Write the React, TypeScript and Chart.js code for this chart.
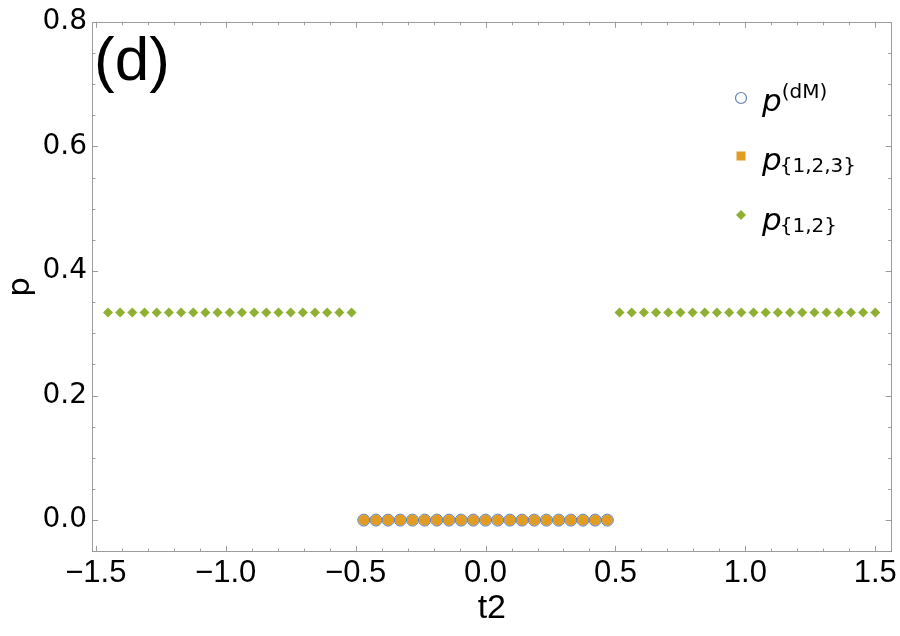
import React, { useEffect, useRef } from 'react';
import { Chart, registerables } from 'chart.js';

Chart.register(...registerables);

// ---- data ----
const T_LEFT = [
  -1.453125, -1.40625, -1.359375, -1.3125, -1.265625, -1.21875, -1.171875, -1.125,
  -1.078125, -1.03125, -0.984375, -0.9375, -0.890625, -0.84375, -0.796875, -0.75,
  -0.703125, -0.65625, -0.609375, -0.5625, -0.515625,
];
const T_RIGHT = [
  0.515625, 0.5625, 0.609375, 0.65625, 0.703125, 0.75, 0.796875, 0.84375, 0.890625,
  0.9375, 0.984375, 1.03125, 1.078125, 1.125, 1.171875, 1.21875, 1.265625, 1.3125,
  1.359375, 1.40625, 1.453125, 1.5,
];
const T_MID = [
  -0.46875, -0.421875, -0.375, -0.328125, -0.28125, -0.234375, -0.1875, -0.140625,
  -0.09375, -0.046875, 0, 0.046875, 0.09375, 0.140625, 0.1875, 0.234375, 0.28125,
  0.328125, 0.375, 0.421875, 0.46875,
];
const P12_LEFT = [
  0.3333, 0.3333, 0.3333, 0.3333, 0.3333, 0.3333, 0.3333, 0.3333, 0.3333, 0.3333, 0.3333,
  0.3333, 0.3333, 0.3333, 0.3333, 0.3333, 0.3333, 0.3333, 0.3333, 0.3333, 0.3333,
];
const P12_RIGHT = [
  0.3333, 0.3333, 0.3333, 0.3333, 0.3333, 0.3333, 0.3333, 0.3333, 0.3333, 0.3333, 0.3333,
  0.3333, 0.3333, 0.3333, 0.3333, 0.3333, 0.3333, 0.3333, 0.3333, 0.3333, 0.3333, 0.3333,
];
const PDM_MID = [0, 0, 0, 0, 0, 0, 0, 0, 0, 0, 0, 0, 0, 0, 0, 0, 0, 0, 0, 0, 0];
const P123_MID = [0, 0, 0, 0, 0, 0, 0, 0, 0, 0, 0, 0, 0, 0, 0, 0, 0, 0, 0, 0, 0];

const X_TICKS = [-1.5, -1.0, -0.5, 0.0, 0.5, 1.0, 1.5];
const Y_TICKS = [0.0, 0.2, 0.4, 0.6, 0.8];
const X_LABEL = 't2';
const Y_LABEL = 'p';
const PANEL_LABEL = '(d)';

const BLUE = '#5E81B5';
const ORANGE = '#E19C24';
const GREEN = '#8FB032';
const FRAME = '#9c9c9c';

const fmt = (v: number) => {
  const s = Math.abs(v).toFixed(1);
  return v < -1e-9 ? '\u2212' + s : s;
};

const decorPlugin = {
  id: 'decor',
  afterDraw(chart: any) {
    const { ctx, chartArea } = chart;
    const { left, right, top, bottom } = chartArea;
    const xs = chart.scales.x;
    const ys = chart.scales.y;
    ctx.save();
    // frame
    ctx.strokeStyle = FRAME;
    ctx.lineWidth = 1;
    ctx.strokeRect(Math.round(left) + 0.5, Math.round(top) + 0.5, Math.round(right - left) - 1, Math.round(bottom - top) - 1);
    // ticks
    ctx.beginPath();
    for (let i = -15; i <= 15; i++) {
      const v = i / 10;
      const px = Math.round(xs.getPixelForValue(v)) + 0.5;
      const len = i % 5 === 0 ? 6 : 3.5;
      ctx.moveTo(px, bottom);
      ctx.lineTo(px, bottom - len);
      ctx.moveTo(px, top);
      ctx.lineTo(px, top + len);
    }
    for (let i = -1; i <= 16; i++) {
      const v = i * 0.05;
      const py = Math.round(ys.getPixelForValue(v)) + 0.5;
      if (py < top || py > bottom) continue;
      const len = i % 4 === 0 ? 6 : 3.5;
      ctx.moveTo(left, py);
      ctx.lineTo(left + len, py);
      ctx.moveTo(right, py);
      ctx.lineTo(right - len, py);
    }
    ctx.stroke();

    // panel label
    ctx.fillStyle = '#000';
    ctx.textBaseline = 'alphabetic';
    ctx.textAlign = 'left';
    ctx.font = '62px "Liberation Sans", Arial, sans-serif';
    ctx.fillText(PANEL_LABEL, 94, 80);

    // legend
    const mx = 741;
    ctx.beginPath();
    ctx.arc(mx, 98, 5.5, 0, Math.PI * 2);
    ctx.fillStyle = '#fff';
    ctx.fill();
    ctx.strokeStyle = BLUE;
    ctx.lineWidth = 1.2;
    ctx.stroke();
    ctx.fillStyle = ORANGE;
    ctx.fillRect(mx - 4.5, 156 - 4.5, 9, 9);
    ctx.beginPath();
    ctx.moveTo(mx, 215 - 5);
    ctx.lineTo(mx + 5, 215);
    ctx.lineTo(mx, 215 + 5);
    ctx.lineTo(mx - 5, 215);
    ctx.closePath();
    ctx.fillStyle = GREEN;
    ctx.fill();

    ctx.fillStyle = '#000';
    const drawItem = (base: number, supText: string | null, subText: string | null, scriptBase: number) => {
      ctx.font = 'oblique 31px "DejaVu Sans", sans-serif';
      ctx.fillText('p', 762, base);
      const w = ctx.measureText('p').width;
      ctx.font = '20px "DejaVu Sans", sans-serif';
      if (supText) ctx.fillText(supText, 762 + w + 0, scriptBase);
      if (subText) ctx.fillText(subText, 762 + w - 2, scriptBase);
    };
    drawItem(111, '(dM)', null, 98);
    drawItem(170, null, '{1,2,3}', 172);
    drawItem(230, null, '{1,2}', 232);
    ctx.restore();
  },
};

export default function App() {
  const ref = useRef<HTMLCanvasElement | null>(null);
  useEffect(() => {
    if (!ref.current) return;
    const toPts = (xs: number[], ys: number[]) => xs.map((x, i) => ({ x, y: ys[i] }));
    const chart = new Chart(ref.current, {
      type: 'scatter',
      data: {
        datasets: [
          {
            label: 'p(dM)',
            data: toPts(T_MID, PDM_MID),
            pointStyle: 'circle',
            pointRadius: 6,
            pointBackgroundColor: 'rgba(0,0,0,0)',
            pointBorderColor: BLUE,
            pointBorderWidth: 1,
            order: 0,
          },
          {
            label: 'p{1,2,3}',
            data: toPts(T_MID, P123_MID),
            pointStyle: 'circle',
            pointRadius: 5.6,
            pointBackgroundColor: ORANGE,
            pointBorderColor: ORANGE,
            pointBorderWidth: 0,
            order: 1,
          },
          {
            label: 'p{1,2}',
            data: [...toPts(T_LEFT, P12_LEFT), ...toPts(T_RIGHT, P12_RIGHT)],
            pointStyle: 'rectRot',
            pointRadius: 5,
            pointBackgroundColor: GREEN,
            pointBorderColor: GREEN,
            pointBorderWidth: 0,
            order: 2,
          },
        ],
      },
      options: {
        responsive: false,
        animation: false,
        layout: { padding: { top: 20, right: 8, left: 0, bottom: 0 } },
        plugins: { legend: { display: false }, tooltip: { enabled: false } },
        scales: {
          x: {
            type: 'linear',
            min: -1.5146,
            max: 1.563,
            grid: { display: false, drawTicks: false },
            border: { display: false },
            afterBuildTicks: (s: any) => {
              s.ticks = X_TICKS.map((v) => ({ value: v }));
            },
            afterFit: (s: any) => {
              s.height = 84;
            },
            ticks: {
              padding: 3,
              color: '#000',
              font: { family: '"Liberation Sans", Arial, sans-serif', size: 31 },
              callback: (v: any) => fmt(Number(v)),
              maxRotation: 0,
              autoSkip: false,
            },
            title: {
              display: true,
              text: X_LABEL,
              color: '#000',
              font: { family: '"Liberation Sans", Arial, sans-serif', size: 34 },
              padding: { top: 0, bottom: 7 },
            },
          },
          y: {
            type: 'linear',
            min: -0.0512,
            max: 0.8,
            grid: { display: false, drawTicks: false },
            border: { display: false },
            afterBuildTicks: (s: any) => {
              s.ticks = Y_TICKS.map((v) => ({ value: v }));
            },
            afterFit: (s: any) => {
              s.width = 92;
            },
            ticks: {
              padding: 5,
              color: '#000',
              font: { family: '"DejaVu Sans", sans-serif', size: 28 },
              callback: (v: any) => fmt(Number(v)),
              autoSkip: false,
            },
            title: {
              display: true,
              text: Y_LABEL,
              color: '#000',
              font: { family: '"DejaVu Sans", sans-serif', size: 31 },
              padding: { top: 2, bottom: 0 },
            },
          },
        },
      },
      plugins: [decorPlugin],
    } as any);
    return () => chart.destroy();
  }, []);
  return (
    <div style={{ position: 'absolute', left: 0, top: 0, width: 900, height: 636, background: '#fff' }}>
      <canvas ref={ref} width={900} height={636} style={{ width: 900, height: 636, display: 'block' }} />
    </div>
  );
}
